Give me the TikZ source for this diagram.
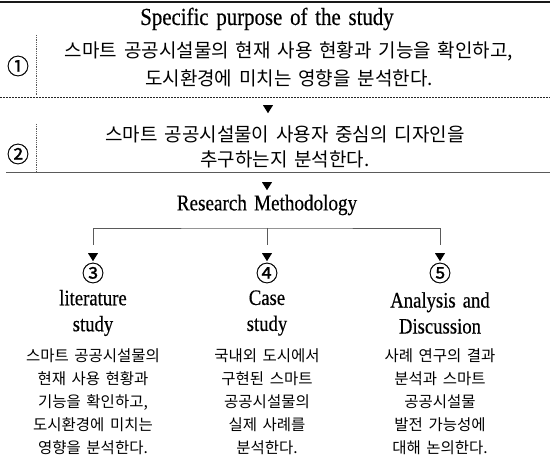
\documentclass[tikz,border=0pt]{standalone}
\usepackage{fontspec}
\setmainfont{Liberation Serif}[FakeStretch=0.85,FakeBold=0.4,WordSpace=1.5]
\newfontfamily\kr{Noto Sans CJK KR}[WordSpace=1.6]
\newfontfamily\krnum{Noto Sans CJK KR}[FakeBold=0.8]
\usetikzlibrary{shapes.geometric}
\definecolor{linegray}{HTML}{5A5A5A}
\begin{document}
\begin{tikzpicture}[x=1pt,y=-1pt,
  tri/.style={isosceles triangle, isosceles triangle stretches, shape border rotate=-90,
    fill=black, draw=none, inner sep=0pt, minimum width=10pt, minimum height=8pt},
  headtxt/.style={font=\fontsize{24.5}{27}\selectfont, inner sep=0pt},
  rmtxt/.style={font=\fontsize{22.5}{25}\selectfont, inner sep=0pt},
  coltxt/.style={font=\fontsize{22}{26}\selectfont, align=center, inner sep=0pt},
  numtxt/.style={font=\krnum\fontsize{22}{24}\selectfont, inner sep=0pt},
  krtop/.style={font=\kr\fontsize{19}{28}\selectfont, align=center, inner sep=0pt},
  krtopb/.style={font=\kr\fontsize{19}{25}\selectfont, align=center, inner sep=0pt},
  krcol/.style={font=\kr\fontsize{15.5}{23}\selectfont, align=center, inner sep=0pt},
  dotline/.style={draw=black!85, line width=0.6pt, dash pattern=on 0.6pt off 0.9pt},
  vdot/.style={draw=black!65, line width=0.6pt, dash pattern=on 0.8pt off 1pt},
  conn/.style={draw=linegray, line width=0.9pt}]
\useasboundingbox (0,0) rectangle (550,470);

% top rule
\coordinate (topL) at (0,2);
\coordinate (topR) at (550,2);
\draw[line width=1.8pt, black!90] (topL) -- (topR);

\node[headtxt] (title) at (267,19) {Specific purpose of the study};

% block 1
\node[numtxt] (n1) at (18,66) {①};
\node[krtop] (p1) at (289,64) {스마트 공공시설물의 현재 사용 현황과 기능을 확인하고,\\도시환경에 미치는 영향을 분석한다.};
\coordinate (v1a) at (36,35);
\coordinate (v1b) at (36,96);
\draw[vdot] (v1a) -- (v1b);
\coordinate (d1L) at (0,97);
\coordinate (d1R) at (550,97);
\draw[dotline] (d1L) -- (d1R);

\node[tri] (a1) at (268,108) {};

% block 2
\node[numtxt] (n2) at (18,154) {②};
\node[krtopb] (p2) at (285,147) {스마트 공공시설물이 사용자 중심의 디자인을\\추구하는지 분석한다.};
\coordinate (v2a) at (36,124);
\coordinate (v2b) at (36,172);
\draw[vdot] (v2a) -- (v2b);
\coordinate (s2L) at (6,172);
\coordinate (s2R) at (550,172);
\draw[conn] (s2L) -- (s2R);

\node[tri] (a2) at (267,185) {};
\node[rmtxt] (rm) at (267,205) {Research Methodology};

% bracket
\coordinate (j) at (267,228);
\coordinate (d3) at (93,245);
\coordinate (d4) at (267,245);
\coordinate (d5) at (440,245);
\draw[conn] (d3) |- (j) -| (d5);
\draw[conn] (j) -- (d4);

\node[tri] (a3) at (93,256) {};
\node[tri] (a4) at (267,256) {};
\node[tri] (a5) at (440,256) {};

% columns
\node[numtxt] (n3) at (93,273) {③};
\node[numtxt] (n4) at (267,273) {④};
\node[numtxt] (n5) at (440,273) {⑤};

\node[coltxt] (h3) at (93,313) {literature\\study};
\node[coltxt] (h4) at (267,313) {Case\\study};
\node[coltxt] (h5) at (440,313) {Analysis and\\Discussion};

\node[krcol] (k3) at (93,402) {스마트 공공시설물의\\현재 사용 현황과\\기능을 확인하고,\\도시환경에 미치는\\영향을 분석한다.};
\node[krcol] (k4) at (267,402) {국내외 도시에서\\구현된 스마트\\공공시설물의\\실제 사례를\\분석한다.};
\node[krcol] (k5) at (440,402) {사례 연구의 결과\\분석과 스마트\\공공시설물\\발전 가능성에\\대해 논의한다.};
\end{tikzpicture}
\end{document}
